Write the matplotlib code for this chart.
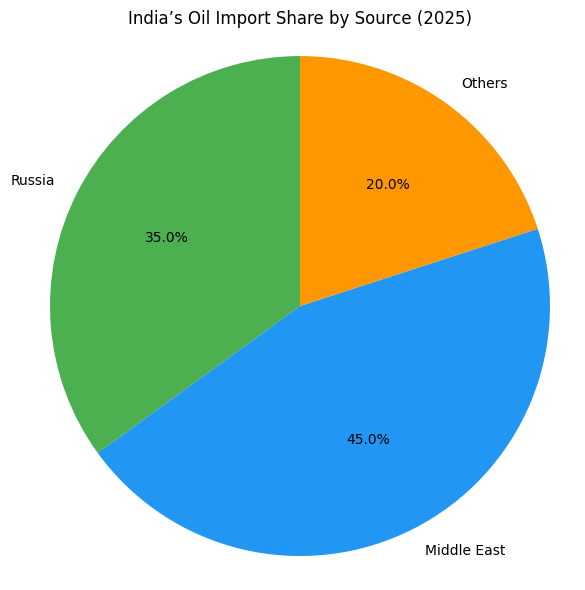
import matplotlib
matplotlib.use("Agg")
from matplotlib import pyplot as plt

sources = ["Russia", "Middle East", "Others"]
shares = [35, 45, 20]
colors = ["#4CAF50", "#2196F3", "#FF9800"]


def plot():
    fig = plt.figure(figsize=(5.85, 5.9), dpi=100)
    ax = fig.add_axes([0.0641, 0.0364, 0.8974, 0.8898])
    ax.pie(shares, labels=sources, colors=colors, autopct="%1.1f%%",
           startangle=90)
    ax.set_xlim(-1.05, 1.05)
    ax.set_ylim(-1.05, 1.05)
    ax.set_aspect("equal")
    ax.set_title("India\u2019s Oil Import Share by Source (2025)", pad=14)
    fig.savefig("out.png", dpi=100)


def main():
    plot()


if __name__ == "__main__":
    main()
